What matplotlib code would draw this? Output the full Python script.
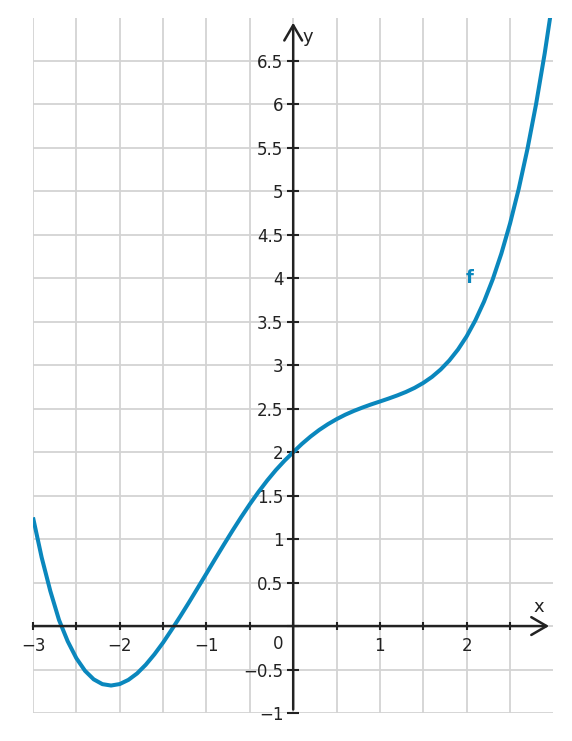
import matplotlib
matplotlib.use("Agg")
import matplotlib.pyplot as plt

# Curve f, values
x_vals = [-3.0, -2.9, -2.8, -2.7, -2.6, -2.5, -2.4, -2.3, -2.2, -2.1,
          -2.0, -1.9, -1.8, -1.7, -1.6, -1.5, -1.4, -1.3, -1.2, -1.1,
          -1.0, -0.9, -0.8, -0.7, -0.6, -0.5, -0.4, -0.3, -0.2, -0.1,
          0.0, 0.1, 0.2, 0.3, 0.4, 0.5, 0.6, 0.7, 0.8, 0.9,
          1.0, 1.1, 1.2, 1.3, 1.4, 1.5, 1.6, 1.7, 1.8, 1.9,
          2.0, 2.1, 2.2, 2.3, 2.4, 2.5, 2.6, 2.7, 2.8, 2.9, 3.0]
f_vals = [1.250, 0.789, 0.402, 0.070, -0.175, -0.370, -0.515, -0.613, -0.668, -0.684,
          -0.667, -0.619, -0.545, -0.445, -0.325, -0.190, -0.040, 0.115, 0.275, 0.440,
          0.605, 0.772, 0.936, 1.097, 1.253, 1.402, 1.543, 1.674, 1.794, 1.902,
          2.000, 2.095, 2.180, 2.256, 2.322, 2.380, 2.431, 2.475, 2.514, 2.550,
          2.583, 2.617, 2.653, 2.693, 2.740, 2.797, 2.866, 2.951, 3.055, 3.181,
          3.333, 3.516, 3.732, 3.987, 4.285, 4.630, 5.028, 5.484, 6.002, 6.589, 7.250]

x_ticks = [-3, -2.5, -2, -1.5, -1, -0.5, 0, 0.5, 1, 1.5, 2, 2.5]
x_tick_labels = ["\u22123", "", "\u22122", "", "\u22121", "", "", "", "1", "", "2", ""]
y_ticks = [-1, -0.5, 0, 0.5, 1, 1.5, 2, 2.5, 3, 3.5, 4, 4.5, 5, 5.5, 6, 6.5]
y_tick_labels = ["\u22121", "\u22120.5", "", "0.5", "1", "1.5", "2", "2.5", "3",
                 "3.5", "4", "4.5", "5", "5.5", "6", "6.5"]

curve_color = "#0a87bd"
axis_color = "#222222"
grid_color = "#d3d3d3"

plt.rcParams['font.family'] = ['DejaVu Sans']

fig = plt.figure(figsize=(5.72, 7.41), dpi=100)
ax = fig.add_axes([33 / 572, 28 / 741, (553.4 - 33) / 572, (713 - 17.5) / 741])
ax.set_xlim(-3, 3)
ax.set_ylim(-1, 7)

# grid
for gx in x_ticks:
    ax.axvline(gx, color=grid_color, lw=1.3, zorder=0)
for gy in y_ticks:
    ax.axhline(gy, color=grid_color, lw=1.3, zorder=0)

# axes through origin
for s in ['top', 'right']:
    ax.spines[s].set_visible(False)
ax.spines['left'].set_position(('data', 0))
ax.spines['bottom'].set_position(('data', 0))
ax.spines['left'].set_color('none')
ax.spines['bottom'].set_color('none')

ax.annotate('', xy=(2.95, 0), xytext=(-3, 0),
            arrowprops=dict(arrowstyle='->,head_length=0.55,head_width=0.32',
                            lw=1.8, color=axis_color, mutation_scale=20,
                            shrinkA=0, shrinkB=0), zorder=3)
ax.annotate('', xy=(0, 6.94), xytext=(0, -0.96),
            arrowprops=dict(arrowstyle='->,head_length=0.55,head_width=0.32',
                            lw=1.8, color=axis_color, mutation_scale=20,
                            shrinkA=0, shrinkB=0), zorder=3)

ax.set_xticks(x_ticks)
ax.set_xticklabels(x_tick_labels)
ax.set_yticks(y_ticks)
ax.set_yticklabels(y_tick_labels)
ax.tick_params(axis='x', direction='inout', length=6, width=1.5, color=axis_color,
               labelsize=12, labelcolor=axis_color, pad=5)
ax.tick_params(axis='y', direction='inout', length=8, width=1.5, color=axis_color,
               labelsize=12, labelcolor=axis_color, pad=3)

ax.annotate('0', xy=(0, 0), xytext=(-11, -13), textcoords='offset points',
            ha='center', va='center', fontsize=12, color=axis_color)
ax.text(2.83, 0.22, 'x', fontsize=13, color=axis_color, ha='center', va='center')
ax.text(0.17, 6.77, 'y', fontsize=13, color=axis_color, ha='center', va='center')

ax.plot(x_vals, f_vals, color=curve_color, lw=2.9, solid_capstyle='butt',
        solid_joinstyle='round', clip_on=True, zorder=2)
ax.text(2.03, 4.0, 'f', fontsize=13, fontweight='bold', color=curve_color,
        ha='center', va='center')

fig.savefig('out.png', dpi=100)
